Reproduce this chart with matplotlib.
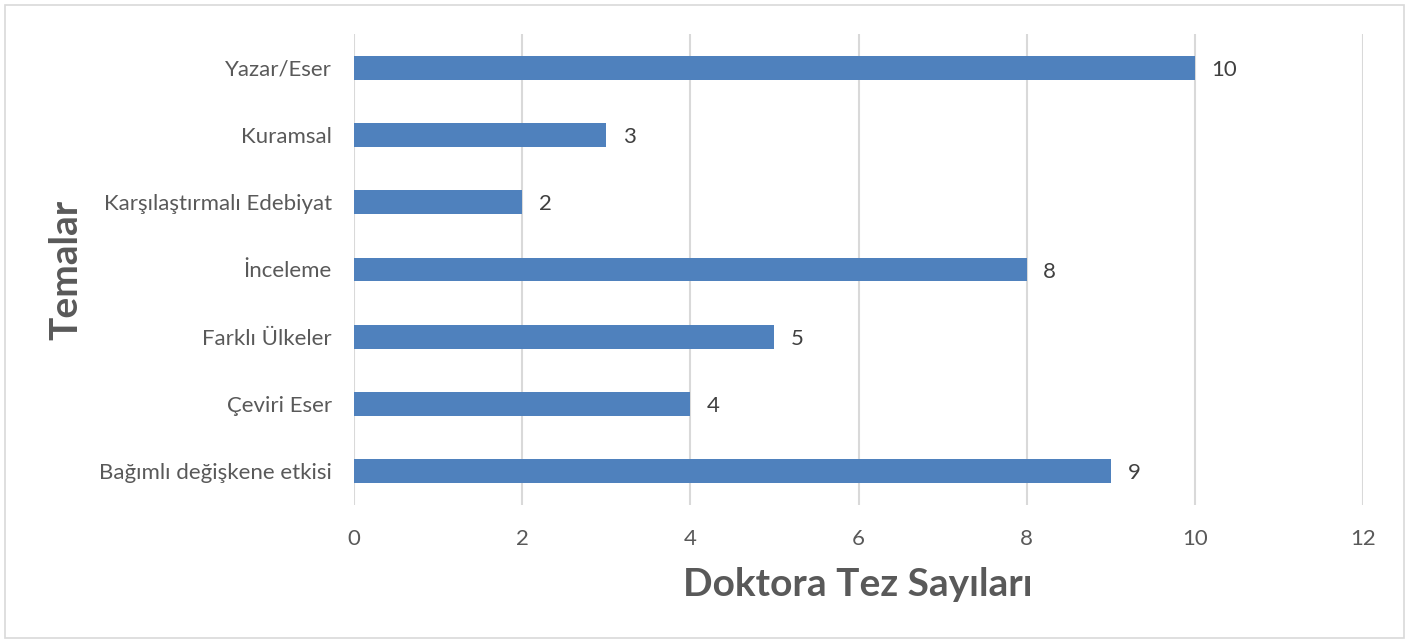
import matplotlib.pyplot as plt
from matplotlib.patches import Rectangle

plt.rcParams['font.family'] = ['Lato', 'DejaVu Sans']

# data, top to bottom as in the chart
themes = ["Yazar/Eser", "Kuramsal", "Karşılaştırmalı Edebiyat", "İnceleme",
          "Farklı Ülkeler", "Çeviri Eser", "Bağımlı değişkene etkisi"]
counts = [10, 3, 2, 8, 5, 4, 9]
x_ticks = [0, 2, 4, 6, 8, 10, 12]

bar_color = "#4F81BD"
text_color = "#595959"
W, H = 1408, 643

fig = plt.figure(figsize=(W / 100, H / 100), dpi=100)
ax = fig.add_axes([354 / W, 1 - 505 / H, (1363 - 354) / W, (505 - 34) / H])

ypos = list(range(len(themes)))
ax.barh(ypos, counts, height=0.355, color=bar_color, zorder=3)
ax.set_ylim(len(themes) - 0.5, -0.5)
ax.set_xlim(0, 12)
ax.set_xticks(x_ticks)
ax.set_yticks(ypos)
ax.set_yticklabels(themes)

for y, v in zip(ypos, counts):
    ax.annotate(str(v), (v, y), xytext=(12, -1.5), textcoords="offset points",
                va="center", ha="left", fontsize=16, color="#404040")

ax.grid(axis="x", color="#D9D9D9", linewidth=1.5, zorder=0)
for s in ax.spines.values():
    s.set_visible(False)
ax.tick_params(axis="both", length=0, labelsize=16, labelcolor=text_color)
ax.tick_params(axis="x", pad=17)
ax.tick_params(axis="y", pad=16)

fig.text(858 / W, 1 - 585 / H, "Doktora Tez Sayıları", fontsize=28,
         fontweight="bold", color=text_color, ha="center", va="center")
fig.text(66 / W, 1 - 270 / H, "Temalar", fontsize=28, fontweight="bold",
         color=text_color, ha="center", va="center", rotation=90)

# outer chart border
fig.patches.append(Rectangle((5 / W, 5 / H), 1399 / W, 633 / H,
                             transform=fig.transFigure, fill=False,
                             edgecolor="#D9D9D9", linewidth=1.2))

fig.savefig("out.png", dpi=100)
